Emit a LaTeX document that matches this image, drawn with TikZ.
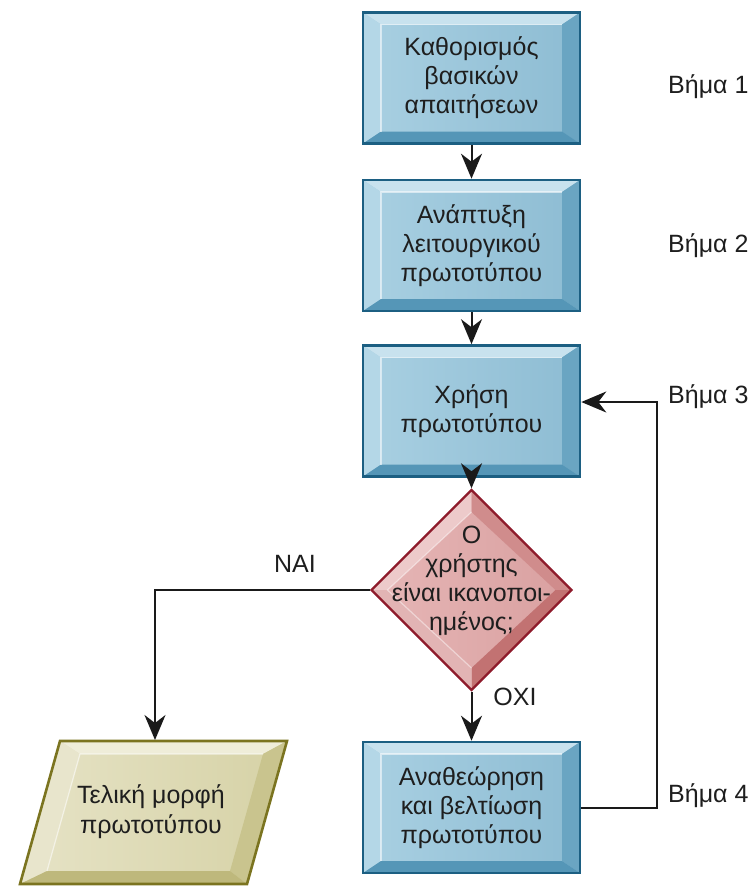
\documentclass[tikz,border=0pt]{standalone}
\usepackage{fontspec}
\setmainfont{Liberation Sans}
\usetikzlibrary{shapes.geometric,arrows.meta,calc}

% blue process boxes
\definecolor{boxedge}{HTML}{1C5F82}
\definecolor{boxfillL}{HTML}{A9D0E2}
\definecolor{boxfillR}{HTML}{8DBCD3}
\definecolor{boxtop}{HTML}{C8E2EE}
\definecolor{boxleft}{HTML}{B4D7E7}
\definecolor{boxright}{HTML}{6AA5C2}
\definecolor{boxbottom}{HTML}{5596B7}
% red decision
\definecolor{dmedge}{HTML}{8E1B2B}
\definecolor{dmfillL}{HTML}{E6B6B6}
\definecolor{dmfillR}{HTML}{D9A0A0}
\definecolor{dmTL}{HTML}{EDCACA}
\definecolor{dmTR}{HTML}{D08C8C}
\definecolor{dmBR}{HTML}{C27272}
\definecolor{dmBL}{HTML}{E2B4B4}
% olive output
\definecolor{pgedge}{HTML}{7B7420}
\definecolor{pgfillL}{HTML}{E6E3C6}
\definecolor{pgfillR}{HTML}{D6D2A6}
\definecolor{pgtop}{HTML}{EFEDD9}
\definecolor{pgleft}{HTML}{E8E5CC}
\definecolor{pgright}{HTML}{C9C48E}
\definecolor{pgbottom}{HTML}{BEB87C}
\definecolor{inkcol}{HTML}{1E1E1E}
\definecolor{linecol}{HTML}{1A1A1A}

\tikzset{
  bigtext/.style={font=\fontsize{25}{29}\selectfont, text=inkcol},
  stepbox/.style={
    rectangle, draw=boxedge, line width=2.6pt,
    minimum width=217pt, minimum height=131pt, inner sep=0pt,
    left color=boxfillL, right color=boxfillR,
    align=center, bigtext,
    execute at begin node={\rule{0pt}{29pt}},
    path picture={
      \path (path picture bounding box.north west) coordinate (bNW)
            (path picture bounding box.south east) coordinate (bSE);
      \fill[boxtop] (bNW) -- (bNW -| bSE) -- ++(-18,12) -- ($(bNW)+(18,12)$) -- cycle;
      \fill[boxleft] (bNW) -- ($(bNW)+(18,12)$) -- ($(bNW |- bSE)+(18,-12)$) -- (bNW |- bSE) -- cycle;
      \fill[boxright] (bNW -| bSE) -- (bSE) -- ++(-18,-12) -- ($(bNW -| bSE)+(-18,12)$) -- cycle;
      \fill[boxbottom] (bNW |- bSE) -- (bSE) -- ++(-18,-12) -- ($(bNW |- bSE)+(18,-12)$) -- cycle;
      \draw[white, opacity=.55, line width=1.2pt]
        ($(bNW |- bSE)+(18,-12)$) -- ($(bNW)+(18,12)$) -- ($(bNW -| bSE)+(-18,12)$);
    }},
  decision/.style={
    diamond, draw=dmedge, line width=2.4pt,
    minimum width=201pt, minimum height=201pt, inner sep=0pt,
    left color=dmfillL, right color=dmfillR,
    path picture={
      \path (path picture bounding box.north west) coordinate (dNW)
            (path picture bounding box.south east) coordinate (dSE);
      \path ($(dNW)!.5!(dNW -| dSE)$) coordinate (dN)
            ($(dNW |- dSE)!.5!(dSE)$) coordinate (dS)
            ($(dNW)!.5!(dNW |- dSE)$) coordinate (dW)
            ($(dNW -| dSE)!.5!(dSE)$) coordinate (dE);
      \fill[dmTL] (dN) -- (dW) -- ($(dW)+(16,0)$) -- ($(dN)+(0,22)$) -- cycle;
      \fill[dmTR] (dN) -- (dE) -- ($(dE)+(-16,0)$) -- ($(dN)+(0,22)$) -- cycle;
      \fill[dmBR] (dS) -- (dE) -- ($(dE)+(-16,0)$) -- ($(dS)+(0,-22)$) -- cycle;
      \fill[dmBL] (dS) -- (dW) -- ($(dW)+(16,0)$) -- ($(dS)+(0,-22)$) -- cycle;
      \draw[white, opacity=.45, line width=1.2pt]
        ($(dS)+(0,-22)$) -- ($(dW)+(16,0)$) -- ($(dN)+(0,22)$);
    }},
  flow/.style={draw=linecol, line width=2pt,
    -{Stealth[length=25pt, width=21pt, inset=8pt]}},
  steplabel/.style={bigtext, anchor=base west, inner sep=0pt},
}

\begin{document}
\begin{tikzpicture}[x=1pt, y=-1pt]
\useasboundingbox (0,0) rectangle (751,886);

% process steps
\node[stepbox] (b1) at (471.5,78)    {Καθορισμός\\βασικών\\απαιτήσεων};
\node[stepbox] (b2) at (471.5,245.5) {Ανάπτυξη\\λειτουργικού\\πρωτοτύπου};
\node[stepbox] (b3) at (471.5,411)   {Χρήση\\πρωτοτύπου};
\node[stepbox] (b4) at (471.5,807.5) {Αναθεώρηση\\και βελτίωση\\πρωτοτύπου};

% decision
\node[decision] (q) at (471.5,590) {};
\node[bigtext, align=center, inner sep=0pt] (qtext) at (471.5,580.5)
  {Ο\\χρήστης\\είναι ικανοποι-\\ημένος;};

% final output (parallelogram with bevelled faces)
\coordinate (pTL) at (60,741);
\coordinate (pTR) at (287,741);
\coordinate (pBR) at (247,884);
\coordinate (pBL) at (20,884);
\coordinate (iTL) at (80,754);
\coordinate (iTR) at (263,754);
\coordinate (iBR) at (230,871);
\coordinate (iBL) at (47,871);
\shade[left color=pgfillL, right color=pgfillR] (pTL) -- (pTR) -- (pBR) -- (pBL) -- cycle;
\fill[pgtop] (pTL) -- (pTR) -- (iTR) -- (iTL) -- cycle;
\fill[pgleft] (pTL) -- (iTL) -- (iBL) -- (pBL) -- cycle;
\fill[pgright] (pTR) -- (pBR) -- (iBR) -- (iTR) -- cycle;
\fill[pgbottom] (pBL) -- (pBR) -- (iBR) -- (iBL) -- cycle;
\draw[white, opacity=.55, line width=1.2pt] (iBL) -- (iTL) -- (iTR);
\draw[pgedge, line width=2.6pt, line join=miter] (pTL) -- (pTR) -- (pBR) -- (pBL) -- cycle;
\node[bigtext, font=\fontsize{25}{30}\selectfont, align=center, inner sep=0pt]
  (final) at (151,811.5) {Τελική μορφή\\πρωτοτύπου};
\coordinate (finaltop) at (155,740);

% connectors
\draw[flow] (b1) -- (b2);
\draw[flow] (b2) -- (b3);
\draw[flow] (b3) -- (q);
\draw[flow] (q) -- (b4);
\draw[flow] (q.west) -| (finaltop);
\coordinate (loopturn) at (657,402);
\draw[flow] (b4.east) -| (loopturn) -- (b3.east |- loopturn);

% branch labels
\node[bigtext, inner sep=0pt] (yes) at (295,564) {ΝΑΙ};
\node[bigtext, inner sep=0pt] (no) at (515,697) {ΟΧΙ};

% step labels
\node[steplabel] (s1) at (668,93)  {Βήμα 1};
\node[steplabel] (s2) at (668,252) {Βήμα 2};
\node[steplabel] (s3) at (668,403) {Βήμα 3};
\node[steplabel] (s4) at (668,802) {Βήμα 4};
\end{tikzpicture}
\end{document}
